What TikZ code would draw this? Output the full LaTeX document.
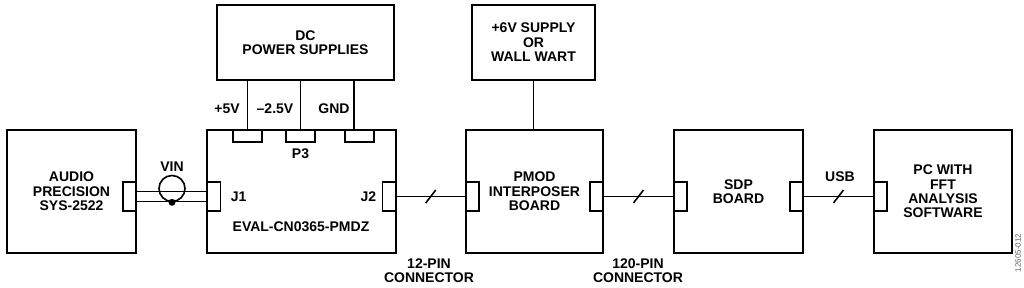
\documentclass[tikz,border=0pt]{standalone}
\usepackage{fontspec}
\setmainfont{Liberation Sans}
\usetikzlibrary{positioning}

\begin{document}
\begin{tikzpicture}[x=0.5pt,y=-0.5pt,
    box/.style={draw, line width=0.9pt, inner sep=0pt, align=center, font=\fontsize{7}{7.2}\selectfont\bfseries},
    pin/.style={draw, fill=white, line width=0.9pt, inner sep=0pt, minimum width=6.5pt, minimum height=14.5pt},
    toppin/.style={pin, minimum width=14.5pt, minimum height=6pt},
    lbl/.style={inner sep=0pt, align=center, font=\fontsize{7}{7.2}\selectfont\bfseries},
    wire/.style={line width=0.8pt},
    dot/.style={circle, fill, inner sep=0pt, minimum size=3.5pt}]
    \useasboundingbox (0,0) rectangle (1024,288);
    % blocks
    \node[box, minimum width=64.5pt, minimum height=61.5pt] (audio) at (71.5,191.5) {AUDIO\\PRECISION\\SYS-2522};
    \node[box, minimum width=94.5pt, minimum height=61.5pt] (eval) at (301.5,191.5) {};
    \node[box, minimum width=88.5pt, minimum height=37.5pt] (dc) at (305.5,42.5) {DC\\POWER SUPPLIES};
    \node[box, minimum width=61.5pt, minimum height=37.5pt] (supply) at (533.5,42.5) {+6V SUPPLY\\OR\\WALL WART};
    \node[box, minimum width=68.5pt, minimum height=61.5pt] (pmod) at (534.5,191.5) {PMOD\\INTERPOSER\\BOARD};
    \node[box, minimum width=64.5pt, minimum height=61.5pt] (sdp) at (738.5,191.5) {SDP\\BOARD};
    \node[box, minimum width=69pt, minimum height=61.5pt] (pc) at (943,191.5) {PC WITH\\FFT\\ANALYSIS\\SOFTWARE};
    % connectors on the blocks
    \node[pin] (ap) at (129.5,196.5) {};
    \node[pin] (j1) at (214,196.5) {};
    \node[pin] (j2) at (389,196.5) {};
    \node[pin] (pl) at (472.5,196.5) {};
    \node[pin] (pr) at (596.5,196.5) {};
    \node[pin] (sl) at (680.5,196.5) {};
    \node[pin] (sr) at (796.5,196.5) {};
    \node[pin] (pcl) at (880.5,196.5) {};
    \node[toppin] (p3a) at (247.5,136) {};
    \node[toppin] (p3b) at (300.5,136) {};
    \node[toppin] (p3c) at (359.5,136) {};
    % supply wires
    \draw[wire] (p3a.north) -- (p3a.north |- dc.south);
    \draw[wire] (p3b.north) -- (p3b.north |- dc.south);
    \draw[wire] ([xshift=-2.75pt]p3c.north) -- ([xshift=-2.75pt]p3c.north |- dc.south);
    \draw[wire] (supply.south) -- (supply.south |- pmod.north);
    % coax cable
    \draw[wire] ([yshift=2.5pt]ap.east) -- ([yshift=2.5pt]j1.west);
    \draw[wire] ([yshift=-2.5pt]ap.east) -- ([yshift=-2.5pt]j1.west);
    \node[draw, circle, line width=0.8pt, inner sep=0pt, minimum size=13pt] (vin) at (172,188.5) {};
    \node[dot] (gnd) at (vin.south) {};
    % buses
    \draw[wire] (j2.east) -- coordinate (s1) (pl.west);
    \draw[wire] (pr.east) -- coordinate (s2) (sl.west);
    \draw[wire] (sr.east) -- coordinate (s3) (pcl.west);
    \foreach \s in {s1,s2,s3}
        \draw[wire] ([shift={(-5,6.5)}]\s) -- ([shift={(5,-6.5)}]\s);
    % labels
    \node[lbl] (vinlbl) at (172,167) {VIN};
    \node[lbl, right=4.5pt of j1] (j1lbl) {J1};
    \node[lbl, left=2.5pt of j2] (j2lbl) {J2};
    \node[lbl] (evallbl) at (301,227) {EVAL-CN0365-PMDZ};
    \node[lbl, below=2.5pt of p3b] (p3lbl) {P3};
    \node[lbl] (v5) at (227,109) {+5V};
    \node[lbl] (v25) at (275,109) {–2.5V};
    \node[lbl] (gndlbl) at (334,109) {GND};
    \node[lbl] (pin12) at (429,270.5) {12-PIN\\CONNECTOR};
    \node[lbl] (pin120) at (638,270.5) {120-PIN\\CONNECTOR};
    \node[lbl] (usb) at (840,177) {USB};
    \node[rotate=90, inner sep=0pt, font=\fontsize{4}{4}\selectfont, text=black!60] (fig) at (1018,253) {12605-012};
\end{tikzpicture}
\end{document}
